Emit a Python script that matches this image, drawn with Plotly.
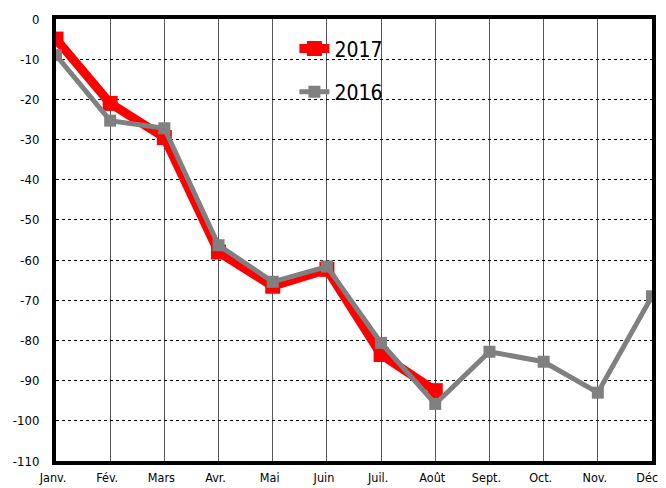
import plotly.graph_objects as go

months = ["Janv.", "Fév.", "Mars", "Avr.", "Mai", "Juin", "Juil.", "Août", "Sept.", "Oct.", "Nov.", "Déc."]
values_2017 = [-5, -21, -29.5, -58, -66.5, -62.3, -83.5, -92.5]
values_2016 = [-9, -25.3, -27.2, -56.3, -65.4, -61.6, -80.6, -95.8, -82.8, -85.3, -93.0, -69.0]
y_ticks = [0, -10, -20, -30, -40, -50, -60, -70, -80, -90, -100, -110]

FONT = "Liberation Sans Narrow, DejaVu Sans Condensed, sans-serif"

fig = go.Figure()
fig.add_trace(go.Scatter(
    x=months[:len(values_2017)], y=values_2017, name="2017", mode="lines+markers",
    legendgroup="a",
    line=dict(color="#ff0000", width=9),
    marker=dict(symbol="square", size=15, color="#ff0000"),
))
fig.add_trace(go.Scatter(
    x=months, y=values_2016, name="2016", mode="lines+markers",
    legendgroup="b",
    line=dict(color="#808080", width=5),
    marker=dict(symbol="square", size=12, color="#808080"),
))

# page body has an 8px margin, so the figure is 8px smaller on each axis
fig.update_layout(
    width=658, height=480,
    margin=dict(l=48, r=14, t=11, b=27),
    paper_bgcolor="white", plot_bgcolor="white",
    font=dict(family=FONT, size=13, color="black"),
    showlegend=True,
    legend=dict(
        x=0.40, y=0.979, xanchor="left", yanchor="top",
        bgcolor="rgba(0,0,0,0)", font=dict(size=21, family=FONT),
        tracegroupgap=13, itemwidth=30,
    ),
)
fig.update_xaxes(
    type="category", categoryorder="array", categoryarray=months,
    range=[0, len(months) - 1], automargin=False,
    showgrid=True, gridcolor="#555555", gridwidth=1,
    showline=True, linecolor="black", linewidth=4, mirror=True,
    ticks="", ticklabelstandoff=2, ticklabelshift=-3, tickfont=dict(size=12.5),
    zeroline=False,
)
fig.update_yaxes(
    range=[-110, 0], tickvals=y_ticks, ticktext=[str(v) for v in y_ticks],
    automargin=False,
    showgrid=True, gridcolor="black", gridwidth=1, griddash="dot",
    showline=True, linecolor="black", linewidth=4, mirror=True,
    ticks="", ticklabelstandoff=10, tickfont=dict(size=13),
    zeroline=False,
)

fig.write_html("out.html")
